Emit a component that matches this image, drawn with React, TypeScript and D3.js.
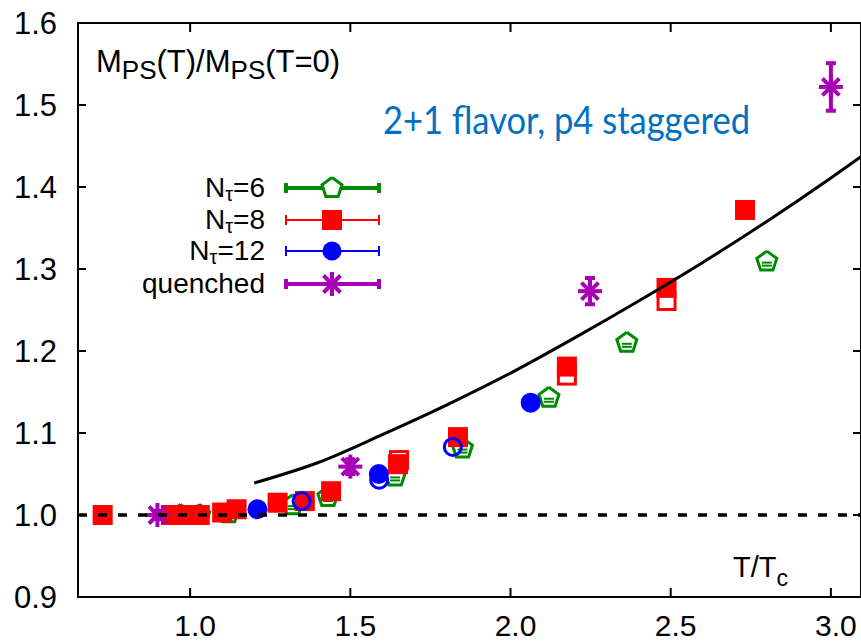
import React from "react";
import * as d3 from "d3";

// N_tau = 6 (open green pentagons): [T/Tc, M(T)/M(0)]
const nt6T = [0.97, 1.03, 1.12, 1.32, 1.43, 1.64, 1.85, 2.12, 2.363, 2.8];
const nt6V = [1.0, 1.0, 1.002, 1.012, 1.022, 1.047, 1.081, 1.143, 1.21, 1.309];

// N_tau = 8 (filled red squares)
const nt8T = [0.727, 0.94, 0.97, 1.0, 1.03, 1.1, 1.145, 1.273, 1.358, 1.44, 1.649, 1.836, 2.176, 2.487, 2.732];
const nt8V = [1.0, 1.0, 1.0, 1.0, 1.0, 1.003, 1.007, 1.015, 1.017, 1.029, 1.062, 1.095, 1.181, 1.277, 1.372];
// N_tau = 8, second set (open red squares)
const nt8bT = [1.652, 2.176, 2.487];
const nt8bV = [1.067, 1.17, 1.261];

// N_tau = 12 (filled and open blue circles)
const nt12T = [1.21, 1.589, 2.063];
const nt12V = [1.007, 1.05, 1.137];
const nt12bT = [1.348, 1.59, 1.82];
const nt12bV = [1.017, 1.043, 1.083];

// quenched (magenta asterisks with error bars)
const qT = [0.898, 1.5, 2.248, 3.0];
const qV = [1.0, 1.059, 1.273, 1.522];
const qErr = [0.005, 0.009, 0.016, 0.029];

// solid reference curve
const curveT = [1.2, 1.4, 1.6, 1.8, 2.0, 2.2, 2.4, 2.6, 2.8, 3.0, 3.094];
const curveV = [1.039, 1.064, 1.098, 1.134, 1.173, 1.216, 1.261, 1.308, 1.358, 1.411, 1.437];

const xTicks = [1.0, 1.5, 2.0, 2.5, 3.0];
const yTicks = [0.9, 1.0, 1.1, 1.2, 1.3, 1.4, 1.5, 1.6];

const legendLabels = [
  { base: "N", sub: "τ", tail: "=6" },
  { base: "N", sub: "τ", tail: "=8" },
  { base: "N", sub: "τ", tail: "=12" },
  { base: "quenched", sub: "", tail: "" },
];

const GREEN = "#008a00";
const RED = "#ff0000";
const BLUE = "#0000ff";
const MAGENTA = "#a800b4";
const FONT = "'Liberation Sans', Arial, sans-serif";

const W = 861;
const H = 643;
const L = 78, R = 861, T = 23, B = 597;

const x = d3.scaleLinear().domain([0.65, 3.094]).range([L, R]);
const y = d3.scaleLinear().domain([0.9, 1.6]).range([B, T]);

function pentagonPath(cx: number, cy: number, r: number) {
  const pts = d3.range(5).map((i) => {
    const a = -Math.PI / 2 + (i * 2 * Math.PI) / 5;
    return [cx + r * Math.cos(a), cy + r * Math.sin(a)] as [number, number];
  });
  return d3.line()(pts.concat([pts[0]])) as string;
}

function Pentagon({ cx, cy }: { cx: number; cy: number }) {
  return (
    <g>
      <path d={pentagonPath(cx, cy, 10.5)} fill="none" stroke={GREEN} strokeWidth={3} strokeLinejoin="miter" />
      <line x1={cx - 5} x2={cx + 5} y1={cy + 1} y2={cy + 1} stroke={GREEN} strokeWidth={2} />
      <line x1={cx - 5} x2={cx + 5} y1={cy + 4} y2={cy + 4} stroke={GREEN} strokeWidth={2} />
    </g>
  );
}

function Asterisk({ cx, cy, r, sw }: { cx: number; cy: number; r: number; sw: number }) {
  return (
    <g stroke={MAGENTA} strokeWidth={sw}>
      {[0, 45, 90, 135].map((a) => {
        const rad = (a * Math.PI) / 180;
        return (
          <line
            key={a}
            x1={cx - r * Math.cos(rad)}
            y1={cy - r * Math.sin(rad)}
            x2={cx + r * Math.cos(rad)}
            y2={cy + r * Math.sin(rad)}
          />
        );
      })}
    </g>
  );
}

export default function App() {
  const curveLine = d3
    .line<number>()
    .x((_, i) => x(curveT[i]))
    .y((d) => y(d))
    .curve(d3.curveMonotoneX);

  const sq = 20;
  const legX0 = 286, legX1 = 379, legMid = 332;
  const legRows = [188, 220, 251, 284];

  return (
    <svg width={W} height={H} style={{ position: "absolute", left: 0, top: 0, background: "#fff" }}>
      <defs>
        <clipPath id="plotClip">
          <rect x={L} y={T} width={R - L} height={B - T} />
        </clipPath>
      </defs>

      {/* frame */}
      <rect x={L} y={T} width={R - L} height={B - T} fill="none" stroke="#000" strokeWidth={2} />

      {/* ticks on all four sides, pointing inward */}
      {xTicks.map((t) => (
        <g key={"xt" + t}>
          <line x1={x(t)} x2={x(t)} y1={B} y2={B - 9} stroke="#000" strokeWidth={2} />
          <line x1={x(t)} x2={x(t)} y1={T} y2={T + 9} stroke="#000" strokeWidth={2} />
          <text x={x(t) + 5} y={636} textAnchor="middle" fontFamily={FONT} fontSize={30} fill="#000">
            {t.toFixed(1)}
          </text>
        </g>
      ))}
      {yTicks.map((t) => (
        <g key={"yt" + t}>
          <line x1={L} x2={L + 8} y1={y(t)} y2={y(t)} stroke="#000" strokeWidth={2} />
          <line x1={R} x2={R - 8} y1={y(t)} y2={y(t)} stroke="#000" strokeWidth={2} />
          <text x={57} y={y(t) + 11} textAnchor="end" fontFamily={FONT} fontSize={31} fill="#000">
            {t.toFixed(1)}
          </text>
        </g>
      ))}

      {/* axis titles */}
      <text x={96} y={72} fontFamily={FONT} fontSize={31} fill="#000">
        M<tspan fontSize={26} dy={7}>PS</tspan>
        <tspan dy={-7}>(T)/M</tspan>
        <tspan fontSize={26} dy={7}>PS</tspan>
        <tspan dy={-7}>(T=0)</tspan>
      </text>
      <text x={733} y={577} fontFamily={FONT} fontSize={29} fill="#000">
        T/T<tspan fontSize={23} dy={9}>c</tspan>
      </text>

      <g clipPath="url(#plotClip)">
        {/* N_tau = 6 */}
        {nt6T.map((t, i) => (
          <Pentagon key={"g" + i} cx={x(t)} cy={y(nt6V[i])} />
        ))}

        {/* N_tau = 8 */}
        {nt8bT.map((t, i) => (
          <rect
            key={"ro" + i}
            x={x(t) - sq / 2 + 1.5}
            y={y(nt8bV[i]) - sq / 2 + 1.5}
            width={sq - 3}
            height={sq - 3}
            fill="#fff"
            stroke={RED}
            strokeWidth={3}
          />
        ))}
        {nt8T.map((t, i) => (
          <rect key={"r" + i} x={x(t) - sq / 2} y={y(nt8V[i]) - sq / 2} width={sq} height={sq} fill={RED} />
        ))}

        {/* N_tau = 12 */}
        {nt12T.map((t, i) => (
          <circle key={"b" + i} cx={x(t)} cy={y(nt12V[i])} r={10} fill={BLUE} />
        ))}
        {nt12bT.map((t, i) => (
          <circle key={"bo" + i} cx={x(t)} cy={y(nt12bV[i])} r={8.5} fill="none" stroke={BLUE} strokeWidth={3} />
        ))}

        {/* quenched */}
        {qT.map((t, i) => {
          const cx = x(t);
          const cy = y(qV[i]);
          const top = y(qV[i] + qErr[i]);
          const bot = y(qV[i] - qErr[i]);
          return (
            <g key={"q" + i}>
              <line x1={cx} x2={cx} y1={top} y2={bot} stroke={MAGENTA} strokeWidth={4} />
              <line x1={cx - 5} x2={cx + 5} y1={top} y2={top} stroke={MAGENTA} strokeWidth={4} />
              <line x1={cx - 5} x2={cx + 5} y1={bot} y2={bot} stroke={MAGENTA} strokeWidth={4} />
              <Asterisk cx={cx} cy={cy} r={12} sw={4} />
            </g>
          );
        })}

        {/* reference lines */}
        <line x1={L} x2={R} y1={y(1.0)} y2={y(1.0)} stroke="#000" strokeWidth={3.5} strokeDasharray="9,11" />
        <path d={curveLine(curveV) as string} fill="none" stroke="#000" strokeWidth={3} />
      </g>

      {/* legend */}
      {legendLabels.map((lab, i) => (
        <text key={"lt" + i} x={265} y={legRows[i] + 9} textAnchor="end" fontFamily={FONT} fontSize={28} fill="#000">
          {lab.base}
          {lab.sub && (
            <tspan fontSize={20} dy={4}>
              {lab.sub}
            </tspan>
          )}
          {lab.tail && <tspan dy={-4}>{lab.tail}</tspan>}
        </text>
      ))}
      {/* legend keys */}
      <g>
        <line x1={legX0} x2={legX1} y1={legRows[0]} y2={legRows[0]} stroke={GREEN} strokeWidth={4} />
        <line x1={legX0} x2={legX0} y1={legRows[0] - 5} y2={legRows[0] + 5} stroke={GREEN} strokeWidth={4} />
        <line x1={legX1} x2={legX1} y1={legRows[0] - 5} y2={legRows[0] + 5} stroke={GREEN} strokeWidth={4} />
        <path d={pentagonPath(legMid, legRows[0], 10.5)} fill="#fff" stroke={GREEN} strokeWidth={3} />

        <line x1={legX0} x2={legX1} y1={legRows[1]} y2={legRows[1]} stroke={RED} strokeWidth={2} />
        <line x1={legX0} x2={legX0} y1={legRows[1] - 5} y2={legRows[1] + 5} stroke={RED} strokeWidth={2} />
        <line x1={legX1} x2={legX1} y1={legRows[1] - 5} y2={legRows[1] + 5} stroke={RED} strokeWidth={2} />
        <rect x={legMid - sq / 2} y={legRows[1] - sq / 2} width={sq} height={sq} fill={RED} />

        <line x1={legX0} x2={legX1} y1={legRows[2]} y2={legRows[2]} stroke={BLUE} strokeWidth={2} />
        <line x1={legX0} x2={legX0} y1={legRows[2] - 5} y2={legRows[2] + 5} stroke={BLUE} strokeWidth={2} />
        <line x1={legX1} x2={legX1} y1={legRows[2] - 5} y2={legRows[2] + 5} stroke={BLUE} strokeWidth={2} />
        <circle cx={legMid} cy={legRows[2]} r={9.5} fill={BLUE} />

        <line x1={legX0} x2={legX1} y1={legRows[3]} y2={legRows[3]} stroke={MAGENTA} strokeWidth={4} />
        <line x1={legX0} x2={legX0} y1={legRows[3] - 5} y2={legRows[3] + 5} stroke={MAGENTA} strokeWidth={4} />
        <line x1={legX1} x2={legX1} y1={legRows[3] - 5} y2={legRows[3] + 5} stroke={MAGENTA} strokeWidth={4} />
        <Asterisk cx={legMid} cy={legRows[3]} r={12} sw={4} />
      </g>

      {/* annotation */}
      <text x={383} y={134} fontFamily="Lato, 'Open Sans', sans-serif" fontSize={39} fill="#0070c0" textLength={367} lengthAdjust="spacingAndGlyphs">
        2+1 flavor, p4 staggered
      </text>
    </svg>
  );
}
